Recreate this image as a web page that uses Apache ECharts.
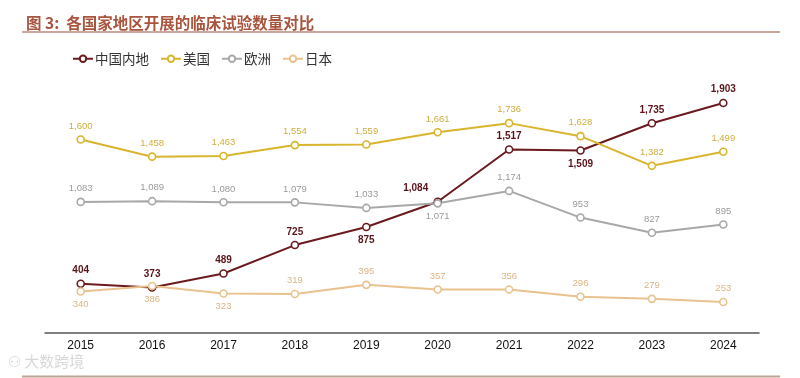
<!DOCTYPE html>
<html><head><meta charset="utf-8">
<script src="https://cdn.jsdelivr.net/npm/echarts@6/dist/echarts.min.js"></script>
<style>html,body{margin:0;padding:0;background:#fff}#c{width:800px;height:378px}</style>
</head><body><div id="c"></div>
<script>
const years = ['2015','2016','2017','2018','2019','2020','2021','2022','2023','2024'];
const china = [404,373,489,725,875,1084,1517,1509,1735,1903];
const usa = [1600,1458,1463,1554,1559,1661,1736,1628,1382,1499];
const europe = [1083,1089,1080,1079,1033,1071,1174,953,827,895];
const japan = [340,386,323,319,395,357,356,296,279,253];
const seriesNames = ['中国内地','美国','欧洲','日本'];
// label placement per point
const chinaPos = ['top','top','top','top','bottom','top','top','bottom','top','top'];
const europePos = ['top','top','top','top','top','bottom','top','top','top','top'];
const japanPos = ['bottom','bottom','bottom','top','top','top','top','top','top','top'];

const numFont = '"Liberation Sans", Arial, sans-serif';
function fmt(v){return v.toLocaleString('en-US');}
function mk(name, vals, color, lblColor, pos, bold, extra){
  return {
    name, type:'line', data: vals.map((v,i)=>{
      const d={value:v, label:{position:pos?pos[i]:'top'}};
      if(extra && extra[i]) Object.assign(d.label, extra[i]);
      return d;
    }),
    symbol:'circle', symbolSize:7, showAllSymbol:true,
    lineStyle:{color, width:2},
    itemStyle:{color:'#fff', borderColor:color, borderWidth:1.6},
    label:{show:true, distance:4, color:lblColor, fontSize:bold?10:9.5, fontWeight:bold?'bold':'normal', fontFamily:numFont,
      formatter:p=>fmt(p.value)},
    emphasis:{disabled:true}, animation:false
  };
}
const chart = echarts.init(document.getElementById('c'), null, {renderer:'canvas'});
chart.setOption({
  backgroundColor:'#fff',
  animation:false,
  title:{text:'图 3:  各国家地区开展的临床试验数量对比', left:21, top:10,
    textStyle:{fontFamily:'"Noto Sans CJK SC", sans-serif', fontSize:15.5, fontWeight:'bold', color:'#a9553e'}},
  legend:{orient:'horizontal', left:67, top:47, itemWidth:20, itemHeight:8, itemGap:11,
    data:seriesNames,
    textStyle:{fontFamily:'"Noto Sans CJK SC", sans-serif', fontSize:13.5, color:'#333', padding:[0,0,0,-3]}},
  grid:{left:45, right:41, top:91.3, bottom:45.5},
  xAxis:{type:'category', data:years, boundaryGap:true,
    axisLine:{lineStyle:{color:'#555', width:1.5}}, axisTick:{show:false},
    axisLabel:{color:'#111', fontSize:12, fontFamily:numFont, margin:7}},
  yAxis:{type:'value', min:0, max:2000, show:false, splitLine:{show:false}},
  graphic:[
    {type:'line', shape:{x1:22,y1:32,x2:780,y2:32}, style:{stroke:'#b98a78', lineWidth:1.3}},
    {type:'line', shape:{x1:22,y1:376.5,x2:780,y2:376.5}, style:{stroke:'#c0a392', lineWidth:2}},
    {type:'text', left:8, top:354, style:{text:'⚇ 大数跨境', fill:'#d8d8d8', font:'15px "Noto Sans CJK SC"'}}
  ],
  series:[
    mk('中国内地', china, '#6b1a1e', '#5a1419', chinaPos, true, {5:{offset:[-22,0]}}),
    mk('美国', usa, '#d8b52c', '#cfae3c', null, false),
    mk('欧洲', europe, '#a8a8a8', '#9a9a9a', europePos, false),
    mk('日本', japan, '#e8c28f', '#dcb585', japanPos, false)
  ]
});
</script></body></html>
